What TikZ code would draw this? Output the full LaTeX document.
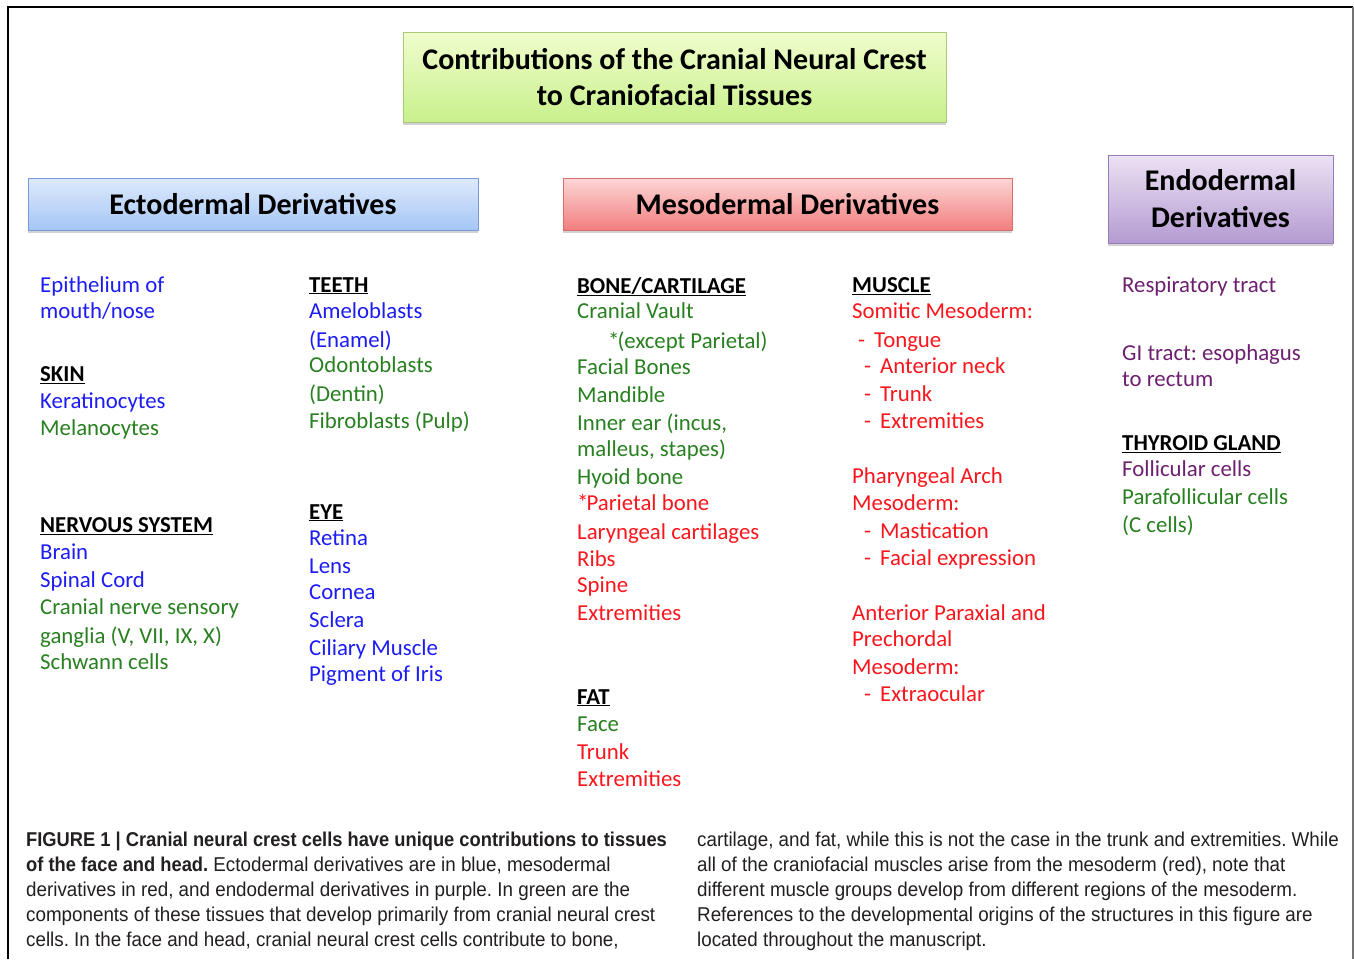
\documentclass[tikz,border=0pt]{standalone}
\usepackage{fontspec}
\setmainfont{Carlito}
\newfontfamily\capfont[FakeStretch=0.94, BoldFeatures={FakeStretch=0.915}]{Liberation Sans}
\usetikzlibrary{shadows}
\definecolor{cblue}{RGB}{28,28,245}
\definecolor{cgreen}{RGB}{40,128,32}
\definecolor{cred}{RGB}{250,22,28}
\definecolor{cpurp}{RGB}{110,32,112}
\definecolor{capc}{RGB}{35,31,32}
\frenchspacing
\begin{document}
\begin{tikzpicture}[x=1pt,y=-1pt,
  box/.style={inner sep=0pt, align=center, font=\fontsize{30}{37}\selectfont\bfseries,
    drop shadow={opacity=0.35, shadow xshift=0pt, shadow yshift=-3pt}},
  ln/.style={anchor=west, inner sep=0pt, text height=16pt, text depth=1.5pt,
    font=\fontsize{22.8}{27}\selectfont},
  hd/.style={ln, black, font=\fontsize{22.8}{27}\selectfont\bfseries},
  captxt/.style={anchor=base west, inner sep=0pt, text=capc, font=\capfont\fontsize{20}{25}\selectfont}
]
\useasboundingbox (0,0) rectangle (1354,959);
\fill[white] (0,0) rectangle (1354,959);
\draw[line width=1.2pt, black] (8,959) -- (8,7) -- (1353,7);
\draw[line width=1.2pt, black!55] (1353,7) -- (1353,959);

% header boxes
\node[box, draw={rgb,255:red,170;green,200;blue,120}, top color={rgb,255:red,240;green,253;blue,205}, bottom color={rgb,255:red,200;green,240;blue,140},
  minimum width=543pt, minimum height=90pt, font=\fontsize{30}{36}\selectfont\bfseries] (title) at (674.5,77)
  {Contributions of the Cranial Neural Crest\\to Craniofacial Tissues};
\node[box, draw={rgb,255:red,120;green,155;blue,215}, top color={rgb,255:red,222;green,234;blue,252}, bottom color={rgb,255:red,165;green,198;blue,245},
  minimum width=450pt, minimum height=52pt] (ecto) at (253,204) {Ectodermal Derivatives};
\node[box, draw={rgb,255:red,215;green,110;blue,110}, top color={rgb,255:red,253;green,215;blue,215}, bottom color={rgb,255:red,242;green,125;blue,125},
  minimum width=449pt, minimum height=52pt] (meso) at (787.5,204) {Mesodermal Derivatives};
\node[box, draw={rgb,255:red,150;green,125;blue,185}, top color={rgb,255:red,236;green,226;blue,244}, bottom color={rgb,255:red,180;green,155;blue,210},
  minimum width=225pt, minimum height=88pt] (endo) at (1220.5,199) {Endodermal\\Derivatives};

% column 1
\node[ln, cblue] (a1) at (40,285) {Epithelium of};
\node[ln, cblue] (a2) at (40,311) {mouth/nose};
\node[hd] (a3) at (40,374) {\underline{SKIN}};
\node[ln, cblue] (a4) at (40,401) {Keratinocytes};
\node[ln, cgreen] (a5) at (40,428) {Melanocytes};
\node[hd] (a6) at (40,525) {\underline{NERVOUS SYSTEM}};
\node[ln, cblue] (a7) at (40,552) {Brain};
\node[ln, cblue] (a8) at (40,580) {Spinal Cord};
\node[ln, cgreen] (a9) at (40,607) {Cranial nerve sensory};
\node[ln, cgreen] (a10) at (40,636) {ganglia (V, VII, IX, X)};
\node[ln, cgreen] (a11) at (40,662) {Schwann cells};

% column 2
\node[hd] (b1) at (309,285) {\underline{TEETH}};
\node[ln, cblue] (b2) at (309,311) {Ameloblasts};
\node[ln, cblue] (b3) at (309,340) {(Enamel)};
\node[ln, cgreen] (b4) at (309,365) {Odontoblasts};
\node[ln, cgreen] (b5) at (309,394) {(Dentin)};
\node[ln, cgreen] (b6) at (309,421) {Fibroblasts (Pulp)};
\node[hd] (b7) at (309,512) {\underline{EYE}};
\node[ln, cblue] (b8) at (309,538) {Retina};
\node[ln, cblue] (b9) at (309,566) {Lens};
\node[ln, cblue] (b10) at (309,592) {Cornea};
\node[ln, cblue] (b11) at (309,620) {Sclera};
\node[ln, cblue] (b12) at (309,648) {Ciliary Muscle};
\node[ln, cblue] (b13) at (309,674) {Pigment of Iris};

% column 3
\node[hd] (c1) at (577,286) {\underline{BONE/CARTILAGE}};
\node[ln, cgreen] (c2) at (577,311) {Cranial Vault};
\node[ln, cgreen] (c3) at (608,341) {*\kern-2pt(except Parietal)};
\node[ln, cgreen] (c4) at (577,367) {Facial Bones};
\node[ln, cgreen] (c5) at (577,395) {Mandible};
\node[ln, cgreen] (c6) at (577,423) {Inner ear (incus,};
\node[ln, cgreen] (c7) at (577,449) {malleus, stapes)};
\node[ln, cgreen] (c8) at (577,477) {Hyoid bone};
\node[ln, cred] (c9) at (577,503) {*\kern-2pt Parietal bone};
\node[ln, cred] (c10) at (577,532) {Laryngeal cartilages};
\node[ln, cred] (c11) at (577,559) {Ribs};
\node[ln, cred] (c12) at (577,585) {Spine};
\node[ln, cred] (c13) at (577,613) {Extremities};
\node[hd] (c14) at (577,697) {\underline{FAT}};
\node[ln, cgreen] (c15) at (577,724) {Face};
\node[ln, cred] (c16) at (577,752) {Trunk};
\node[ln, cred] (c17) at (577,779) {Extremities};

% column 4
\node[hd] (d1) at (852,285) {\underline{MUSCLE}};
\node[ln, cred] (d2) at (852,311) {Somitic Mesoderm:};
\node[ln, cred] (d3) at (858,340) {-\hspace{9pt}Tongue};
\node[ln, cred] (d4) at (864,366) {-\hspace{9pt}Anterior neck};
\node[ln, cred] (d5) at (864,394) {-\hspace{9pt}Trunk};
\node[ln, cred] (d6) at (864,421) {-\hspace{9pt}Extremities};
\node[ln, cred] (d7) at (852,476) {Pharyngeal Arch};
\node[ln, cred] (d8) at (852,503) {Mesoderm:};
\node[ln, cred] (d9) at (864,531) {-\hspace{9pt}Mastication};
\node[ln, cred] (d10) at (864,558) {-\hspace{9pt}Facial expression};
\node[ln, cred] (d11) at (852,613) {Anterior Paraxial and};
\node[ln, cred] (d12) at (852,639) {Prechordal};
\node[ln, cred] (d13) at (852,667) {Mesoderm:};
\node[ln, cred] (d14) at (864,694) {-\hspace{9pt}Extraocular};

% column 5
\node[ln, cpurp] (e1) at (1122,285) {Respiratory tract};
\node[ln, cpurp] (e2) at (1122,353) {GI tract: esophagus};
\node[ln, cpurp] (e3) at (1122,379) {to rectum};
\node[hd] (e4) at (1122,443) {\underline{THYROID GLAND}};
\node[ln, cpurp] (e5) at (1122,469) {Follicular cells};
\node[ln, cgreen] (e6) at (1122,497) {Parafollicular cells};
\node[ln, cgreen] (e7) at (1122,525) {(C cells)};

% caption
\node[captxt] (f1) at (26,846) {\bfseries FIGURE 1 | Cranial neural crest cells have unique contributions to tissues};
\node[captxt] (f2) at (26,871) {{\bfseries of the face and head.} Ectodermal derivatives are in blue, mesodermal};
\node[captxt] (f3) at (26,896) {derivatives in red, and endodermal derivatives in purple. In green are the};
\node[captxt] (f4) at (26,921) {components of these tissues that develop primarily from cranial neural crest};
\node[captxt] (f5) at (26,946) {cells. In the face and head, cranial neural crest cells contribute to bone,};
\node[captxt] (g1) at (697,846) {cartilage, and fat, while this is not the case in the trunk and extremities. While};
\node[captxt] (g2) at (697,871) {all of the craniofacial muscles arise from the mesoderm (red), note that};
\node[captxt] (g3) at (697,896) {different muscle groups develop from different regions of the mesoderm.};
\node[captxt] (g4) at (697,921) {References to the developmental origins of the structures in this figure are};
\node[captxt] (g5) at (697,946) {located throughout the manuscript.};
\end{tikzpicture}
\end{document}
